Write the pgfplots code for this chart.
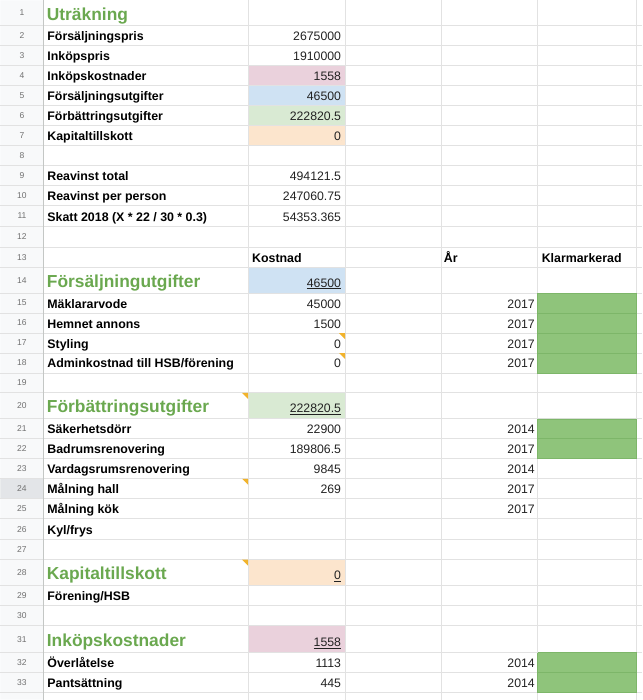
\documentclass[border=0pt]{standalone}
\usepackage{pgfplots}
\pgfplotsset{compat=1.18}
\usepackage{fontspec}
\setmainfont{Liberation Sans}
\definecolor{gridc}{HTML}{E2E2E2}
\definecolor{rowbg}{HTML}{F8F9FA}
\definecolor{rowsel}{HTML}{E3E5E8}
\definecolor{rowline}{HTML}{C4C7C5}
\definecolor{rownum}{HTML}{707070}
\definecolor{pinkc}{HTML}{EAD1DC}
\definecolor{bluec}{HTML}{CFE2F3}
\definecolor{greenc}{HTML}{D9EAD3}
\definecolor{orangec}{HTML}{FCE5CD}
\definecolor{klar}{HTML}{8FC47B}
\definecolor{klarb}{HTML}{7DB669}
\definecolor{headc}{HTML}{6AA84F}
\definecolor{numc}{HTML}{222222}
\definecolor{tri}{HTML}{F1B32C}
\pgfplotsset{
  txt/.style={only marks, mark=*, mark size=0pt, mark options={draw=none,fill=none},
    nodes near coords, point meta=explicit symbolic,
    nodes near coords style={inner sep=0pt, outer sep=0pt, #1}},
  cellfill/.style={draw=none, fill=#1},
  klarcell/.style={fill=klar, draw=klarb, line width=0.8pt},
}
\begin{document}
\begin{tikzpicture}
\begin{axis}[width=642pt, height=700pt, scale only axis,
  xmin=0, xmax=642, ymin=0, ymax=700, y dir=reverse,
  hide axis, clip=false]

% row-number column background
\addplot[cellfill=rowbg] coordinates {(0,0)(43,0)(43,700)(0,700)(0,0)};
\addplot[cellfill=rowsel] coordinates {(0,479)(43,479)(43,499)(0,499)(0,479)};

% coloured cells
\addplot[cellfill=pinkc] coordinates {(248,65)(345,65)(345,85)(248,85)(248,65)};
\addplot[cellfill=bluec] coordinates {(248,85)(345,85)(345,105)(248,105)(248,85)};
\addplot[cellfill=greenc] coordinates {(248,105)(345,105)(345,125)(248,125)(248,105)};
\addplot[cellfill=orangec] coordinates {(248,125)(345,125)(345,145)(248,145)(248,125)};
\addplot[cellfill=bluec] coordinates {(248,267)(345,267)(345,293)(248,293)(248,267)};
\addplot[cellfill=greenc] coordinates {(248,393)(345,393)(345,419)(248,419)(248,393)};
\addplot[cellfill=orangec] coordinates {(248,560)(345,560)(345,586)(248,586)(248,560)};
\addplot[cellfill=pinkc] coordinates {(248,626)(345,626)(345,653)(248,653)(248,626)};

% grid lines
\addplot[gridc, line width=0.9pt, unbounded coords=jump] table {
x y
248 0
248 700
nan nan
345 0
345 700
nan nan
442 0
442 700
nan nan
538 0
538 700
nan nan
637 0
637 700
};
\addplot[gridc, line width=0.9pt, unbounded coords=jump] table {
x y
0 25
642 25
nan nan
0 45
642 45
nan nan
0 65
642 65
nan nan
0 85
642 85
nan nan
0 105
642 105
nan nan
0 125
642 125
nan nan
0 145
642 145
nan nan
0 165
642 165
nan nan
0 185
642 185
nan nan
0 205
642 205
nan nan
0 226
642 226
nan nan
0 247
642 247
nan nan
0 267
642 267
nan nan
0 293
642 293
nan nan
0 313
642 313
nan nan
0 333
642 333
nan nan
0 353
642 353
nan nan
0 373
642 373
nan nan
0 393
642 393
nan nan
0 419
642 419
nan nan
0 439
642 439
nan nan
0 459
642 459
nan nan
0 479
642 479
nan nan
0 499
642 499
nan nan
0 519
642 519
nan nan
0 540
642 540
nan nan
0 560
642 560
nan nan
0 586
642 586
nan nan
0 606
642 606
nan nan
0 626
642 626
nan nan
0 653
642 653
nan nan
0 673
642 673
nan nan
0 693
642 693
};
\addplot[rowline, line width=0.9pt] coordinates {(43,0)(43,700)};

% "Klarmarkerad" green cells
\addplot[klarcell] coordinates {(538,293)(637,293)(637,313)(538,313)(538,293)};
\addplot[klarcell] coordinates {(538,313)(637,313)(637,333)(538,333)(538,313)};
\addplot[klarcell] coordinates {(538,333)(637,333)(637,353)(538,353)(538,333)};
\addplot[klarcell] coordinates {(538,353)(637,353)(637,373)(538,373)(538,353)};
\addplot[klarcell] coordinates {(538,419)(637,419)(637,439)(538,439)(538,419)};
\addplot[klarcell] coordinates {(538,439)(637,439)(637,459)(538,459)(538,439)};
\addplot[klarcell] coordinates {(538,653)(637,653)(637,673)(538,673)(538,653)};
\addplot[klarcell] coordinates {(538,673)(637,673)(637,693)(538,693)(538,673)};

% comment triangles
\addplot[cellfill=tri] coordinates {(339,333)(345,333)(345,339)(339,333)};
\addplot[cellfill=tri] coordinates {(339,353)(345,353)(345,359)(339,353)};
\addplot[cellfill=tri] coordinates {(242,393)(248,393)(248,399)(242,393)};
\addplot[cellfill=tri] coordinates {(242,479)(248,479)(248,485)(242,479)};
\addplot[cellfill=tri] coordinates {(242,560)(248,560)(248,566)(242,560)};

% row numbers
\addplot[txt={anchor=center, font=\fontsize{8.5}{10}\selectfont, text=rownum}] table[meta=t] {
x y t
21.5 12.5 1
21.5 35 2
21.5 55 3
21.5 75 4
21.5 95 5
21.5 115 6
21.5 135 7
21.5 155 8
21.5 175 9
21.5 195 10
21.5 215.5 11
21.5 236.5 12
21.5 257 13
21.5 280 14
21.5 303 15
21.5 323 16
21.5 343 17
21.5 363 18
21.5 383 19
21.5 406 20
21.5 429 21
21.5 449 22
21.5 469 23
21.5 489 24
21.5 509 25
21.5 529.5 26
21.5 550 27
21.5 573 28
21.5 596 29
21.5 616 30
21.5 639.5 31
21.5 663 32
21.5 683 33
};

% headings
\addplot[txt={anchor=base west, font=\bfseries\fontsize{17.4}{20}\selectfont, text=headc}] table[meta=t, col sep=semicolon] {
x;y;t
46.5;20;Uträkning
46.5;287;Försäljningutgifter
46.5;413;Förbättringsutgifter
46.5;580;Kapitaltillskott
46.5;647;Inköpskostnader
};

% row labels
\addplot[txt={anchor=base west, font=\bfseries\fontsize{12.4}{14}\selectfont, text=black}] table[meta=t, col sep=semicolon] {
x;y;t
47;40;Försäljningspris
47;60;Inköpspris
47;80;Inköpskostnader
47;100;Försäljningsutgifter
47;120;Förbättringsutgifter
47;140;Kapitaltillskott
47;180;Reavinst total
47;200;Reavinst per person
47;221;Skatt 2018 (X * 22 / 30 * 0.3)
47;308;Mäklararvode
47;328;Hemnet annons
47;348;Styling
47;368;Adminkostnad till HSB/förening
47;434;Säkerhetsdörr
47;454;Badrumsrenovering
47;474;Vardagsrumsrenovering
47;494;Målning hall
47;514;Målning kök
47;535;Kyl/frys
47;601;Förening/HSB
47;668;Överlåtelse
47;688;Pantsättning
252;262;Kostnad
444;262;År
542;262;Klarmarkerad
};

% values (column B)
\addplot[txt={anchor=base east, font=\fontsize{12.3}{14}\selectfont, text=numc}] table[meta=t] {
x y t
341 40 2675000
341 60 1910000
341 80 1558
341 100 46500
341 120 222820.5
341 140 0
341 180 494121.5
341 200 247060.75
341 221 54353.365
341 308 45000
341 328 1500
341 348 0
341 368 0
341 434 22900
341 454 189806.5
341 474 9845
341 494 269
341 668 1113
341 688 445
};

% underlined totals
\addplot[txt={anchor=base east, font=\fontsize{12.3}{14}\selectfont, text=numc},
  nodes near coords={\underline{\pgfplotspointmeta}}] table[meta=t] {
x y t
341 287 46500
341 413 222820.5
341 580 0
341 647 1558
};

% years (column D)
\addplot[txt={anchor=base east, font=\fontsize{12.3}{14}\selectfont, text=numc}] table[meta=t] {
x y t
535 308 2017
535 328 2017
535 348 2017
535 368 2017
535 434 2014
535 454 2017
535 474 2014
535 494 2017
535 514 2017
535 668 2014
535 688 2014
};

\end{axis}
\end{tikzpicture}
\end{document}
